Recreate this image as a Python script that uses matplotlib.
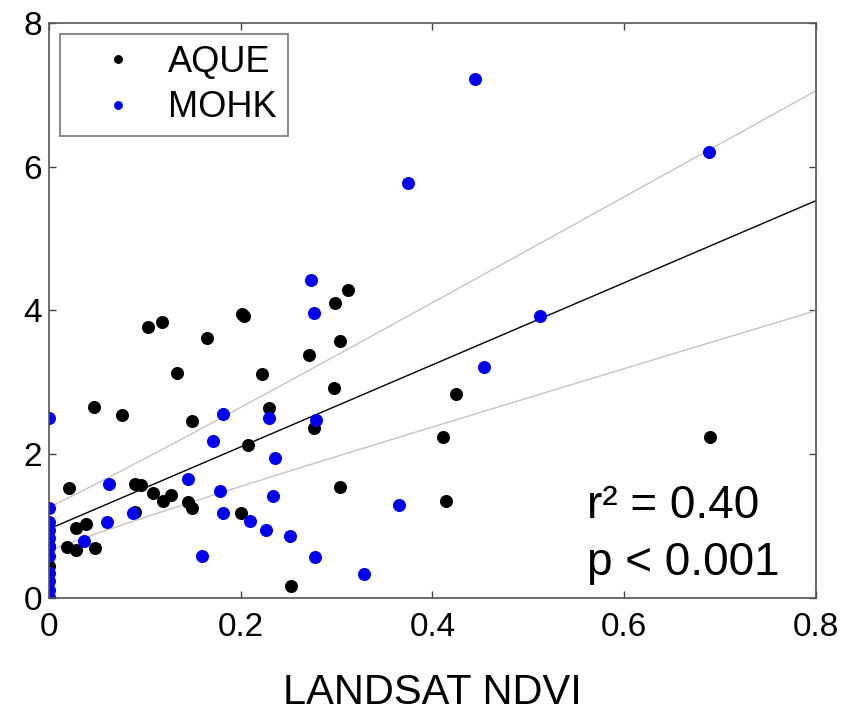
import numpy as np
import matplotlib
matplotlib.use("Agg")
import matplotlib.pyplot as plt

plt.rcParams['font.family'] = ['Liberation Sans', 'DejaVu Sans']

# AQUE (black) points
aque_x = [0.021, 0.047, 0.076, 0.103, 0.118, 0.134, 0.165, 0.201, 0.203, 0.298,
          0.312, 0.304, 0.271, 0.222, 0.297, 0.229, 0.149, 0.276, 0.208, 0.304,
          0.145, 0.149, 0.200, 0.252, 0.090, 0.096, 0.108, 0.119, 0.127, 0.028,
          0.039, 0.019, 0.028, 0.048, 0.090, 0.0, 0.0, 0.425, 0.411, 0.689, 0.414]
aque_y = [1.53, 2.66, 2.54, 3.77, 3.84, 3.13, 3.62, 3.95, 3.93, 4.10,
          4.28, 3.58, 3.38, 3.11, 2.92, 2.64, 2.46, 2.36, 2.13, 1.55,
          1.33, 1.25, 1.18, 0.17, 1.58, 1.57, 1.46, 1.35, 1.43, 0.98,
          1.03, 0.71, 0.67, 0.70, 1.19, 0.72, 0.44, 2.84, 2.24, 2.24, 1.35]

# MOHK (blue) points
mohk_x = [0.0, 0.0, 0.0, 0.0, 0.0, 0.0, 0.0, 0.0, 0.0, 0.0, 0.0,
          0.063, 0.088, 0.061, 0.037,
          0.273, 0.276, 0.181, 0.230, 0.278, 0.171, 0.236, 0.145, 0.178, 0.234,
          0.182, 0.210, 0.226, 0.251, 0.160, 0.277, 0.329,
          0.444, 0.374, 0.688, 0.512, 0.454, 0.365]
mohk_y = [2.51, 1.25, 1.06, 0.94, 0.83, 0.71, 0.58, 0.35, 0.23, 0.11, 0.02,
          1.59, 1.18, 1.06, 0.79,
          4.43, 3.97, 2.56, 2.50, 2.48, 2.19, 1.95, 1.66, 1.49, 1.42,
          1.18, 1.07, 0.95, 0.86, 0.59, 0.57, 0.34,
          7.22, 5.77, 6.21, 3.93, 3.22, 1.30]

# regression line and confidence band as drawn in the original
fit_intercept = 0.96
fit_slope = 5.71
band_sq = [0.09, 0.477, 2.92]   # half-width^2 = c0 + c1*x + c2*x^2

xs = np.linspace(0, 0.8, 200)
yfit = fit_intercept + fit_slope * xs
half = np.sqrt(band_sq[0] + band_sq[1] * xs + band_sq[2] * xs ** 2)

fig = plt.figure(figsize=(8.56, 7.13), dpi=100)
ax = fig.add_axes([0.0572, 0.1613, 0.8961, 0.8065])

ax.plot(xs, yfit + half, color='#c4c4c4', lw=1)
ax.plot(xs, yfit - half, color='#c4c4c4', lw=1)
ax.plot(xs, yfit, color='black', lw=1)

ax.plot(aque_x, aque_y, 'o', color='black', ms=9.4, mew=0, label='AQUE')
ax.plot(mohk_x, mohk_y, 'o', color='#0000ee', ms=9.4, mew=0, label='MOHK')

ax.set_xlim(0, 0.8)
ax.set_ylim(0, 8)
ax.set_xticks([0, 0.2, 0.4, 0.6, 0.8])
ax.set_xticklabels(['0', '0.2', '0.4', '0.6', '0.8'])
ax.set_yticks([0, 2, 4, 6, 8])
ax.tick_params(direction='in', length=5, width=1, color='#444444',
               top=True, right=True, labelsize=24)
ax.tick_params(axis='x', pad=10)
ax.tick_params(axis='y', pad=5)
for sp in ax.spines.values():
    sp.set_color('#555555')
    sp.set_linewidth(1.2)

ax.set_xlabel('LANDSAT NDVI', fontsize=30, labelpad=22)

leg = ax.legend(loc='upper left', fontsize=26, markerscale=0.68, fancybox=False,
                frameon=True, borderaxespad=0.3, handletextpad=0.1,
                borderpad=0.3, labelspacing=0.3, handlelength=2.6)
leg.get_frame().set_edgecolor('#555555')
leg.get_frame().set_linewidth(1.2)

ax.text(0.701, 0.139, 'r² = 0.40', transform=ax.transAxes,
        fontsize=33, ha='left', va='baseline')
ax.text(0.701, 0.040, 'p < 0.001', transform=ax.transAxes,
        fontsize=33, ha='left', va='baseline')

fig.savefig('out.png', dpi=100)
